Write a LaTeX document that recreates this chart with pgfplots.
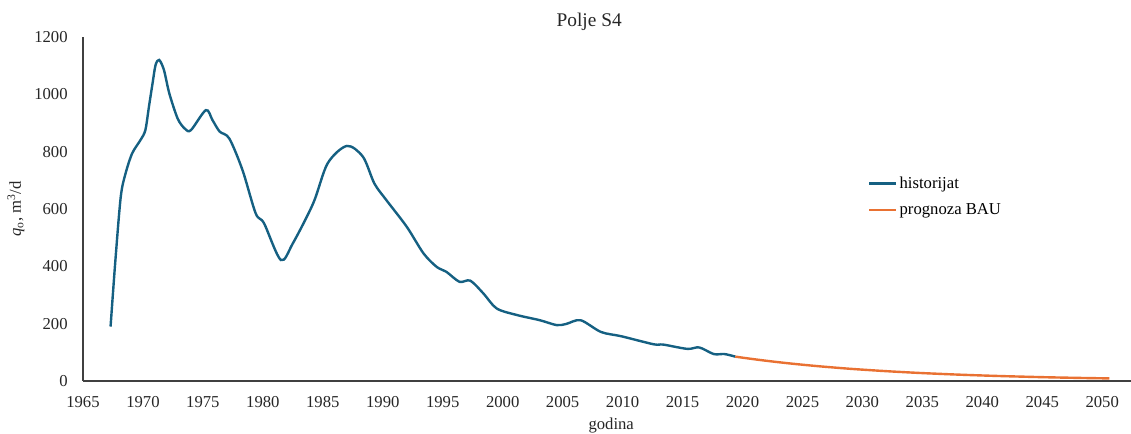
\documentclass[border=0pt]{standalone}
\usepackage{fontspec}
\setmainfont{Liberation Serif}
\usepackage{pgfplots}
\pgfplotsset{compat=1.18}
\definecolor{histcol}{HTML}{156082}
\definecolor{progcol}{HTML}{E97132}
\begin{document}
\begin{tikzpicture}
\useasboundingbox (-62.25pt,-39.75pt) rectangle (786pt,285.75pt);
\begin{axis}[
  scale only axis,
  width=786pt, height=258pt,
  xmin=1965, xmax=2052.4,
  ymin=0, ymax=1200,
  axis lines=left,
  axis line style={-, draw=black!75, line width=0.8pt},
  xtick={1965,1970,...,2050},
  ytick={0,200,...,1200},
  major tick length=0pt,
  /pgf/number format/1000 sep={},
  /pgf/number format/assume math mode=true,
  tick label style={font=\fontsize{12.5}{14}\selectfont, text=black!85},
  xticklabel style={yshift=-8pt},
  yticklabel style={xshift=-8pt},
  xlabel={godina},
  xlabel style={font=\fontsize{12.5}{14}\selectfont, text=black!85, at={(rel axis cs:0.504,0)}, anchor=north, yshift=-24pt},
  ylabel={\textit{q}\textsubscript{o}, m\textsuperscript{3}/d},
  ylabel style={font=\fontsize{12.5}{14}\selectfont, text=black!85, at={(rel axis cs:-0.064,0.5)}, anchor=center},
  title={Polje S4},
  title style={font=\fontsize{14.5}{16}\selectfont, text=black!85, at={(rel axis cs:0.483,1)}, anchor=south, yshift=-5pt},
  legend style={at={(rel axis cs:0.745,0.61)}, anchor=north west, draw=none, fill=none,
    font=\fontsize{12.5}{14}\selectfont, row sep=6pt},
  legend cell align=left,
  legend image code/.code={\draw[#1] (0cm,0cm) -- (0.7cm,0cm);},
  clip=false,
]
\addplot[histcol, line width=1.8pt, smooth, tension=0.5] coordinates {
(1967.3,190) (1967.7,420) (1968.15,643) (1968.55,724) (1969.1,794) (1969.8,841)
(1970.2,875) (1970.5,957) (1970.8,1038) (1971.05,1102) (1971.35,1120) (1971.75,1085)
(1972.2,1003) (1972.9,915) (1973.5,880)
(1974.0,875) (1975.25,945) (1975.8,910) (1976.4,870) (1977.2,846) (1978.3,736)
(1979.4,585) (1980.1,550) (1981.5,422) (1982.5,480) (1984.2,620) (1985.4,759)
(1987.0,820) (1988.35,782) (1989.3,689) (1990.3,631) (1992.0,538) (1993.4,445)
(1994.5,398) (1995.3,381) (1996.4,346) (1997.3,350) (1998.4,305) (1999.5,253)
(2001.2,230) (2003.1,212) (2004.5,195) (2005.3,199) (2006.5,212) (2008.2,171)
(2009.9,156) (2012.6,128) (2013.4,127) (2015.4,112) (2016.4,117) (2017.6,94)
(2018.5,94) (2019.4,85)
};
\addlegendentry{historijat}
\addplot[progcol, line width=1.8pt, smooth] coordinates {
(2019.4,85) (2020.4,79.1) (2021.4,73.6) (2022.4,68.5) (2023.4,63.7) (2024.4,59.3)
(2025.4,55.2) (2026.4,51.3) (2027.4,47.8) (2028.4,44.4) (2029.4,41.3) (2030.4,38.5)
(2031.4,35.8) (2032.4,33.3) (2033.4,31.0) (2034.4,28.8) (2035.4,26.8) (2036.4,25.0)
(2037.4,23.2) (2038.4,21.6) (2039.4,20.1) (2040.4,18.7) (2041.4,17.4) (2042.4,16.2)
(2043.4,15.1) (2044.4,14.0) (2045.4,13.0) (2046.4,12.1) (2047.4,11.3) (2048.4,10.5)
(2049.4,9.8) (2050.6,9.0)
};
\addlegendentry{prognoza BAU}
\end{axis}
\end{tikzpicture}
\end{document}
